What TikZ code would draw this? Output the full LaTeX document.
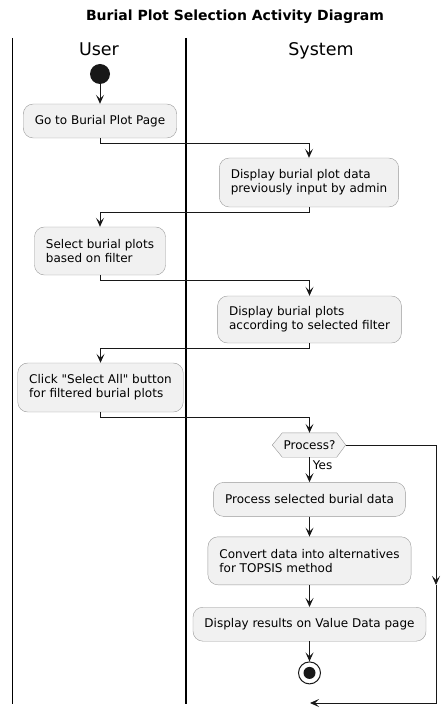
\documentclass[tikz,border=0pt]{standalone}
\usepackage{fontspec}
\setmainfont{DejaVu Sans}[Ligatures=TeXOff]
\usetikzlibrary{positioning,arrows.meta,backgrounds}

\definecolor{boxfill}{HTML}{F1F1F1}
\definecolor{boxline}{HTML}{999999}
\definecolor{ink}{HTML}{181818}

\begin{document}
\begin{tikzpicture}[x=1pt, y=-1pt, node distance=20pt,
  act node/.style={draw=boxline, fill=boxfill, rounded corners=10pt, align=left,
    inner xsep=11.5pt, inner ysep=0pt, font=\fontsize{12}{14.3}\selectfont},
  one line/.style={act node, minimum height=34pt},
  two line/.style={act node, minimum height=49pt},
  flow/.style={draw=ink, line width=0.9pt, -{Stealth[length=9pt,width=8pt,inset=4pt]}},
  lane/.style={draw=black, line width=1.4pt}]
\useasboundingbox (0,0) rectangle (445,708);

% title and lanes
\node[font=\bfseries\fontsize{14}{16}\selectfont, anchor=base] (title) at (235,21) {Burial Plot Selection Activity Diagram};
\node[font=\fontsize{17.5}{20}\selectfont, anchor=base] (user) at (99,56) {User};
\node[font=\fontsize{17.5}{20}\selectfont, anchor=base] (system) at (321,56) {System};
\draw[lane] (12.5,38) -- (12.5,704);
\draw[lane] (186,38) -- (186,704);

% user / system steps
\node[circle, fill=ink, minimum size=20pt, inner sep=0pt] (start) at (100,74) {};
\node[one line] (goto) at (100,121) {Go to Burial Plot Page};
\node[two line] (showdata) at (309,182.5) {Display burial plot data\\previously input by admin};
\node[two line, minimum height=48pt] (select) at (100,251) {Select burial plots\\based on filter};
\node[two line, minimum height=47pt] (showfilt) at (309.5,319.5) {Display burial plots\\according to selected filter};
\node[two line] (selall) at (100.5,387.5) {Click "Select All" button\\for filtered burial plots};

% decision
\node[minimum width=54pt, minimum height=24pt, inner sep=0pt, font=\fontsize{12}{14}\selectfont] (proc) at (309.5,445) {Process?};
\coordinate (procR) at ([xshift=9pt]proc.east);
\coordinate (procL) at ([xshift=-10pt]proc.west);
\begin{scope}[on background layer]
\draw[draw=boxline, fill=boxfill] (proc.north west) -- (proc.north east) -- (procR)
  -- (proc.south east) -- (proc.south west) -- (procL) -- cycle;
\end{scope}

\node[one line, below=25pt of proc] (procdata) {Process selected burial data};
\node[two line, minimum height=48pt, below=of procdata] (convert) {Convert data into alternatives\\for TOPSIS method};
\node[one line, below=22pt of convert] (results) {Display results on Value Data page};
\node[circle, draw=ink, line width=1pt, fill=white, minimum size=22pt, inner sep=0pt,
  below=of results, path picture={\fill[ink] (path picture bounding box.center) circle (6pt);}] (stop) {};

\coordinate (loopmid) at (436,585);
\coordinate (merge) at (310,703);

% connectors
\draw[flow] (start) -- (goto);
\draw[flow] (goto.south) -- ++(0,5) -| (showdata.north);
\draw[flow] (showdata.south) -- ++(0,5) -| (select.north);
\draw[flow] (select.south) -- ++(0,5) -| (showfilt.north);
\draw[flow] (showfilt.south) -- ++(0,5) -| (selall.north);
\draw[flow] (selall.south) -- ++(0,5) -| (proc.north);
\draw[flow] (proc.south) -- node[anchor=north west, pos=0, inner sep=3pt, font=\fontsize{12}{14}\selectfont] {Yes} (procdata.north);
\draw[flow] (procdata) -- (convert);
\draw[flow] (convert) -- (results);
\draw[flow] (results) -- (stop);
\draw[flow] (procR) -| (loopmid);
\draw[flow] (loopmid) |- (merge);
\end{tikzpicture}
\end{document}
